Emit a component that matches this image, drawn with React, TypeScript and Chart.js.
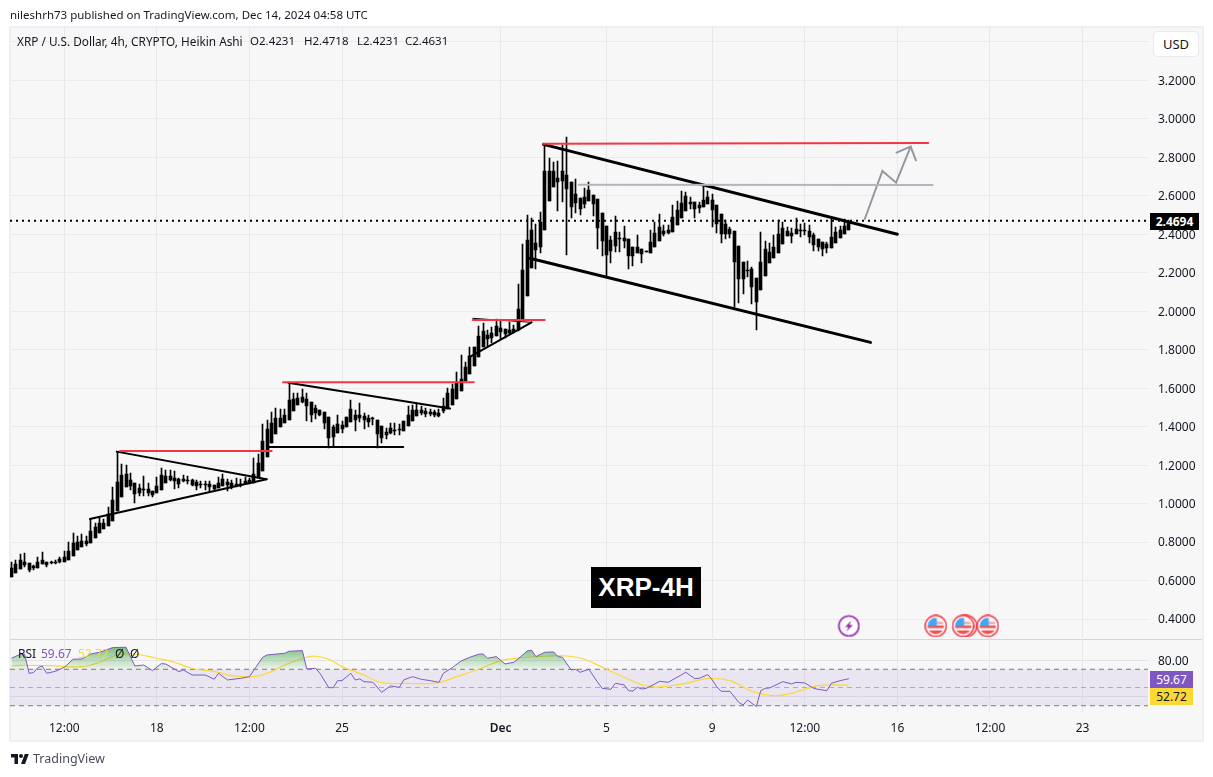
import React, { useEffect, useRef } from "react";
import { Chart, registerables } from "chart.js";

Chart.register(...registerables);

const FIRST_BAR = -12;

const bodyTops = [
  0.663, 0.686, 0.705, 0.694, 0.689, 0.674, 0.696, 0.705, 0.694, 0.694, 0.696, 0.712,
  0.722, 0.753, 0.795, 0.798, 0.805, 0.803, 0.857, 0.878, 0.897, 0.897,
  0.946, 1.018, 1.112, 1.148, 1.153, 1.122, 1.107, 1.081, 1.077, 1.075,
  1.065, 1.089, 1.148, 1.141, 1.141, 1.131, 1.127, 1.127, 1.122, 1.12,
  1.11, 1.101, 1.1, 1.1, 1.095, 1.107, 1.127, 1.112, 1.107, 1.1,
  1.103, 1.115, 1.12, 1.152, 1.209, 1.325, 1.386, 1.418, 1.444, 1.444,
  1.46, 1.538, 1.543, 1.547, 1.552, 1.543, 1.526, 1.496, 1.484, 1.474,
  1.45, 1.398, 1.412, 1.408, 1.45, 1.491, 1.46, 1.46, 1.455, 1.443,
  1.443, 1.434, 1.401, 1.373, 1.391, 1.382, 1.387, 1.427, 1.46, 1.484,
  1.486, 1.485, 1.48, 1.475, 1.475, 1.47, 1.507, 1.577, 1.594, 1.628,
  1.646, 1.712, 1.767, 1.815, 1.871, 1.897, 1.876, 1.888, 1.925, 1.912,
  1.907, 1.902, 1.907, 2.01, 2.214, 2.37, 2.422, 2.353, 2.465, 2.729,
  2.729, 2.729, 2.691, 2.729, 2.708, 2.67, 2.609, 2.587, 2.592, 2.63,
  2.604, 2.581, 2.509, 2.443, 2.37, 2.413, 2.38, 2.378, 2.373, 2.335,
  2.335, 2.321, 2.313, 2.358, 2.405, 2.439, 2.418, 2.422, 2.488, 2.526,
  2.561, 2.599, 2.566, 2.566, 2.552, 2.578, 2.595, 2.578, 2.552, 2.505,
  2.453, 2.427, 2.417, 2.339, 2.255, 2.214, 2.217, 2.174, 2.254, 2.321,
  2.308, 2.335, 2.4, 2.434, 2.417, 2.405, 2.427, 2.422, 2.422, 2.417,
  2.396, 2.375, 2.358, 2.347, 2.387, 2.412, 2.422, 2.443, 2.463,
];

const bodyBottoms = [
  0.62, 0.641, 0.661, 0.68, 0.654, 0.663, 0.667, 0.684, 0.68, 0.691, 0.693, 0.694,
  0.698, 0.706, 0.729, 0.76, 0.776, 0.79, 0.797, 0.823, 0.849, 0.869,
  0.885, 0.911, 0.963, 1.036, 1.088, 1.091, 1.051, 1.056, 1.072, 1.055,
  1.044, 1.055, 1.072, 1.108, 1.122, 1.117, 1.103, 1.115, 1.117, 1.096,
  1.091, 1.096, 1.096, 1.086, 1.074, 1.081, 1.091, 1.098, 1.086, 1.091,
  1.095, 1.1, 1.105, 1.108, 1.131, 1.171, 1.244, 1.316, 1.363, 1.399,
  1.42, 1.434, 1.483, 1.514, 1.528, 1.507, 1.462, 1.47, 1.46, 1.42,
  1.342, 1.346, 1.368, 1.387, 1.396, 1.422, 1.436, 1.446, 1.436, 1.424,
  1.438, 1.363, 1.341, 1.358, 1.365, 1.377, 1.382, 1.379, 1.405, 1.431,
  1.455, 1.47, 1.465, 1.465, 1.46, 1.455, 1.48, 1.49, 1.512, 1.542,
  1.587, 1.637, 1.673, 1.715, 1.764, 1.815, 1.855, 1.862, 1.873, 1.893,
  1.879, 1.888, 1.893, 1.902, 1.958, 2.079, 2.226, 2.318, 2.335, 2.422,
  2.574, 2.647, 2.67, 2.678, 2.635, 2.543, 2.564, 2.531, 2.557, 2.574,
  2.555, 2.434, 2.365, 2.292, 2.313, 2.339, 2.375, 2.367, 2.289, 2.287,
  2.304, 2.295, 2.308, 2.304, 2.332, 2.365, 2.401, 2.405, 2.413, 2.448,
  2.486, 2.522, 2.557, 2.531, 2.538, 2.543, 2.557, 2.526, 2.451, 2.401,
  2.4, 2.4, 2.257, 2.167, 2.165, 2.21, 2.127, 2.049, 2.11, 2.185,
  2.252, 2.278, 2.304, 2.351, 2.393, 2.393, 2.399, 2.417, 2.417, 2.384,
  2.344, 2.335, 2.325, 2.327, 2.33, 2.354, 2.382, 2.401, 2.423,
];

const highs = [
  0.698, 0.706, 0.738, 0.743, 0.689, 0.68, 0.72, 0.746, 0.694, 0.703, 0.705, 0.72,
  0.751, 0.798, 0.845, 0.831, 0.84, 0.831, 0.92, 0.897, 0.925, 0.918,
  0.982, 1.088, 1.269, 1.204, 1.2, 1.159, 1.107, 1.1, 1.141, 1.107,
  1.065, 1.138, 1.183, 1.174, 1.174, 1.169, 1.134, 1.148, 1.143, 1.127,
  1.122, 1.115, 1.115, 1.117, 1.095, 1.136, 1.152, 1.129, 1.122, 1.131,
  1.129, 1.136, 1.134, 1.235, 1.257, 1.412, 1.432, 1.474, 1.498, 1.491,
  1.491, 1.628, 1.576, 1.576, 1.593, 1.576, 1.526, 1.512, 1.484, 1.474,
  1.45, 1.408, 1.46, 1.431, 1.45, 1.538, 1.486, 1.521, 1.472, 1.46,
  1.451, 1.434, 1.401, 1.394, 1.417, 1.417, 1.412, 1.427, 1.507, 1.514,
  1.516, 1.505, 1.495, 1.49, 1.485, 1.49, 1.547, 1.599, 1.621, 1.685,
  1.772, 1.738, 1.812, 1.815, 1.923, 1.937, 1.9, 1.916, 1.958, 1.954,
  1.907, 1.945, 1.928, 2.141, 2.349, 2.5, 2.483, 2.453, 2.514, 2.864,
  2.798, 2.777, 2.782, 2.864, 2.904, 2.67, 2.685, 2.587, 2.638, 2.673,
  2.604, 2.581, 2.509, 2.443, 2.391, 2.495, 2.413, 2.443, 2.373, 2.335,
  2.396, 2.321, 2.313, 2.422, 2.462, 2.505, 2.448, 2.448, 2.552, 2.573,
  2.625, 2.621, 2.592, 2.566, 2.569, 2.652, 2.625, 2.609, 2.552, 2.505,
  2.474, 2.439, 2.417, 2.339, 2.255, 2.261, 2.231, 2.174, 2.413, 2.365,
  2.353, 2.396, 2.474, 2.462, 2.439, 2.431, 2.482, 2.451, 2.457, 2.448,
  2.405, 2.375, 2.358, 2.361, 2.477, 2.439, 2.443, 2.477, 2.472,
];

const lows = [
  0.62, 0.641, 0.66, 0.668, 0.644, 0.654, 0.667, 0.684, 0.672, 0.684, 0.686, 0.691,
  0.698, 0.706, 0.729, 0.76, 0.776, 0.777, 0.797, 0.823, 0.849, 0.869,
  0.885, 0.911, 0.963, 1.036, 1.088, 1.07, 1.004, 1.039, 1.039, 1.037,
  1.032, 1.055, 1.072, 1.108, 1.117, 1.075, 1.082, 1.112, 1.101, 1.089,
  1.07, 1.082, 1.07, 1.062, 1.067, 1.081, 1.091, 1.067, 1.075, 1.084,
  1.088, 1.1, 1.101, 1.105, 1.131, 1.171, 1.244, 1.316, 1.363, 1.399,
  1.42, 1.434, 1.483, 1.514, 1.524, 1.431, 1.425, 1.438, 1.455, 1.386,
  1.287, 1.296, 1.368, 1.365, 1.396, 1.422, 1.379, 1.425, 1.386, 1.399,
  1.408, 1.287, 1.316, 1.337, 1.361, 1.356, 1.356, 1.379, 1.405, 1.431,
  1.455, 1.46, 1.45, 1.455, 1.45, 1.45, 1.47, 1.49, 1.51, 1.542,
  1.587, 1.637, 1.673, 1.715, 1.764, 1.815, 1.819, 1.833, 1.873, 1.854,
  1.859, 1.881, 1.888, 1.895, 1.958, 2.079, 2.226, 2.217, 2.301, 2.422,
  2.574, 2.647, 2.523, 2.569, 2.292, 2.486, 2.509, 2.5, 2.535, 2.574,
  2.495, 2.323, 2.287, 2.179, 2.252, 2.309, 2.309, 2.33, 2.221, 2.235,
  2.301, 2.249, 2.306, 2.304, 2.332, 2.365, 2.391, 2.4, 2.413, 2.448,
  2.486, 2.522, 2.531, 2.486, 2.512, 2.543, 2.557, 2.439, 2.408, 2.356,
  2.373, 2.382, 2.02, 2.044, 2.089, 2.179, 2.037, 1.902, 2.11, 2.185,
  2.252, 2.278, 2.304, 2.351, 2.393, 2.356, 2.399, 2.384, 2.396, 2.353,
  2.315, 2.313, 2.287, 2.304, 2.33, 2.354, 2.382, 2.401, 2.423,
];

const rsiBars = [
  -12, -10, -9, -8, -7, -6, -5, -4, -2, 0, 2, 4, 6, 8, 11, 14, 16, 18, 20, 22, 23, 26, 27, 29, 32, 34, 35, 37, 40, 42,
  45, 46, 50, 51, 54, 55, 57, 58, 60, 61, 62, 63, 65, 66, 67, 68, 70, 72, 74, 76, 77, 79, 81, 83, 85, 86, 88, 90, 92,
  94, 95, 96, 98, 100, 102, 104, 105, 106, 107, 109, 111, 112, 113, 115, 116, 117, 119, 121, 122, 124, 125, 127, 128,
  129, 130, 131, 132, 134, 135, 137, 139, 141, 143, 144, 146, 147, 148, 149, 151, 153, 154, 155, 157, 158, 159, 160,
  163, 165, 166, 168, 170, 171, 173, 174, 176, 178,
];
const rsiValues = [
  82.1, 86.5, 86.8, 65.6, 66.3, 71.8, 73.6, 65.6, 67.8, 72.2, 81, 81.3, 86.8, 88.7, 93.8, 94.2, 73.6, 74.7, 68.5, 76.2,
  75.8, 67.4, 69.2, 63.7, 63.7, 59, 65.6, 58.3, 60.1, 61.9, 83.2, 85.7, 87.6, 89.8, 90.5, 70.3, 71.1, 65.6, 49.8, 49.8,
  57.5, 57.5, 65.6, 58.3, 59.4, 56.4, 55.7, 44.7, 51.7, 50.2, 58.3, 61.9, 59, 57.5, 55.7, 65.6, 71.8, 79.1, 83.2, 86.5,
  86.8, 82.1, 83.9, 75.8, 77.7, 85.7, 90.1, 90.9, 83.9, 88.7, 89, 83.9, 83.2, 69.2, 70, 66.7, 70, 55.7, 49.1, 48, 54.6,
  52.8, 46.5, 46.1, 50.2, 48.4, 49.1, 53.9, 56.8, 55.7, 61.2, 66.7, 59.7, 60.1, 64.1, 58.3, 50.9, 45.8, 45.8, 33.7, 30.8,
  36.3, 29, 46.5, 49.1, 49.5, 56.4, 53.9, 55.7, 55, 49.1, 48, 46.5, 54.6, 57.5, 59.67,
];

const maBars = [
  -12, -10, -3, 4, 8, 12, 16, 21, 25, 29, 35, 38, 43, 47, 50, 55, 57, 60, 63, 68, 72, 78, 81, 85, 89, 94, 99, 103, 110,
  114, 118, 123, 128, 132, 135, 141, 146, 151, 156, 161, 165, 171, 178,
];
const maValues = [
  73.6, 74.4, 74, 72.9, 77.7, 85.7, 86.8, 82.1, 77.7, 71.1, 66.7, 63, 61.9, 67.4, 74.7, 83.2, 84.3, 81, 72.9, 63.7, 55.3,
  54.6, 54.2, 55.3, 61.9, 70, 79.5, 82.4, 84.6, 84.6, 81, 70, 59, 51.7, 50.6, 54.6, 59.7, 57.5, 45.8, 41, 43.6, 52, 52.72,
];

const tickBars = [0, 21, 42, 63, 99, 123, 147, 168, 189, 210, 231];
const tickLabels = ["12:00", "18", "12:00", "25", "Dec", "5", "9", "12:00", "16", "12:00", "23"];

const LAST_PRICE = 2.4694;
const BAR_MIN = -12.32;
const BAR_MAX = 245.85;

type Pt = [number, number];
const triangle1Upper: Pt[] = [[11.9, 1.27], [45.9, 1.126]];
const triangle1Lower: Pt[] = [[5.8, 0.92], [45.9, 1.126]];
const resistance1: Pt[] = [[12.6, 1.273], [47.05, 1.273]];
const triangle2Upper: Pt[] = [[50.8, 1.628], [87.5, 1.494]];
const triangle2Lower: Pt[] = [[46.2, 1.294], [76.9, 1.294]];
const resistance2: Pt[] = [[49.6, 1.63], [92.9, 1.63]];
const resistance3: Pt[] = [[92.65, 1.954], [109, 1.954]];
const triangle3Upper: Pt[] = [[92.65, 1.963], [106, 1.942]];
const triangle3Lower: Pt[] = [[92, 1.763], [106, 1.942]];
const channelUpper: Pt[] = [[108.7, 2.867], [189, 2.4]];
const channelLower: Pt[] = [[105.6, 2.275], [182.9, 1.838]];
const resistanceTop: Pt[] = [[108.6, 2.87], [196, 2.874]];
const grayLevel: Pt[] = [[116.7, 2.657], [197, 2.656]];
const arrowPath: Pt[] = [[181.6, 2.479], [185.6, 2.729], [188.7, 2.668], [192, 2.855]];
const arrowHead: Pt[] = [[188.8, 2.824], [192, 2.855], [193.2, 2.784]];

const flagEventBars = [197.7, 204.6, 203.9, 209.5];
const boltEventBars = [178];
const EVENT_PRICE = 0.364;

const FONT = "'Noto Sans', sans-serif";

function flagIcon(): HTMLCanvasElement {
  const c = document.createElement("canvas");
  c.width = 23;
  c.height = 23;
  const g = c.getContext("2d")!;
  const m = 11.5;
  g.beginPath();
  g.arc(m, m, 10.5, 0, Math.PI * 2);
  g.fillStyle = "#ffffff";
  g.fill();
  g.lineWidth = 1.4;
  g.strokeStyle = "#f23645";
  g.stroke();
  g.save();
  g.beginPath();
  g.arc(m, m, 8.2, 0, Math.PI * 2);
  g.clip();
  g.fillStyle = "#f7f7f7";
  g.fillRect(0, 0, 23, 23);
  g.fillStyle = "#ef5350";
  g.fillRect(0, 11, 23, 2.6);
  g.fillRect(0, 16, 23, 4);
  g.fillStyle = "#ef9a9a";
  g.fillRect(12, 7.5, 12, 2);
  g.fillStyle = "#42a5f5";
  g.fillRect(0, 0, 12.5, 11.5);
  g.restore();
  return c;
}

function boltIcon(): HTMLCanvasElement {
  const c = document.createElement("canvas");
  c.width = 23;
  c.height = 23;
  const g = c.getContext("2d")!;
  g.beginPath();
  g.arc(11.5, 11.5, 10, 0, Math.PI * 2);
  g.fillStyle = "#ffffff";
  g.fill();
  g.lineWidth = 1.6;
  g.strokeStyle = "#9c27b0";
  g.stroke();
  g.beginPath();
  g.moveTo(14, 6);
  g.lineTo(7.5, 12.5);
  g.lineTo(11, 12.5);
  g.lineTo(9, 17);
  g.lineTo(15.5, 10.5);
  g.lineTo(12, 10.5);
  g.closePath();
  g.fillStyle = "#9c27b0";
  g.fill();
  return c;
}

const toXY = (pts: Pt[]) => pts.map(([x, y]) => ({ x, y }));

const drawnLine = (pts: Pt[], color: string, width: number) => ({
  type: "line" as const,
  data: toXY(pts),
  borderColor: color,
  borderWidth: width,
  pointRadius: 0,
  xAxisID: "x",
  yAxisID: "y",
  order: 1,
  fill: false,
  borderCapStyle: "round" as const,
  borderJoinStyle: "miter" as const,
});

const snapBars = {
  id: "snapBars",
  afterDatasetsUpdate(chart: any) {
    chart.data.datasets.forEach((d: any, i: number) => {
      if (d.type !== "bar") return;
      chart.getDatasetMeta(i).data.forEach((el: any) => {
        el.x = Math.floor(el.x) + 0.5;
        el.y = Math.round(el.y);
        el.base = Math.round(el.base);
      });
    });
  },
};

// The labels' font sits one pixel above the grid line: move them back onto it.
const nudgeLabels = (s: any) => {
  if (s.$nudged) return;
  s.$nudged = true;
  const compute = s._computeLabelItems.bind(s);
  s._computeLabelItems = (area: any) =>
    compute(area).map((it: any) => ({
      ...it,
      options: { ...it.options, translation: [it.options.translation[0], it.options.translation[1] + 1] },
    }));
};

const abs = (o: React.CSSProperties): React.CSSProperties => ({
  position: "absolute",
  whiteSpace: "nowrap",
  fontFamily: FONT,
  ...o,
});

export default function App() {
  const ref = useRef<HTMLCanvasElement>(null);

  useEffect(() => {
    document.body.style.margin = "0";
    document.body.style.background = "#ffffff";
    const canvas = ref.current!;
    const ctx = canvas.getContext("2d")!;
    const green = ctx.createLinearGradient(0, 645, 0, 670);
    green.addColorStop(0, "rgba(67,160,71,0.75)");
    green.addColorStop(1, "rgba(76,175,80,0.04)");
    const barIndex = (i: number) => i + FIRST_BAR;

    const chart = new Chart(canvas, {
      type: "bar",
      plugins: [snapBars],
      data: {
        datasets: [
          {
            type: "line",
            data: [{ x: BAR_MIN, y: LAST_PRICE }, { x: BAR_MAX, y: LAST_PRICE }],
            borderColor: "#000000",
            borderWidth: 2,
            borderDash: [2, 4],
            pointRadius: 0,
            yAxisID: "y",
            order: 5,
          },
          {
            type: "bar",
            data: lows.map((l, i) => ({ x: barIndex(i), y: [l, highs[i]] })),
            backgroundColor: "#000000",
            barThickness: 1,
            grouped: false,
            yAxisID: "y",
            order: 4,
            stack: "wicks",
          },
          {
            type: "bar",
            data: bodyBottoms.map((b, i) => ({ x: barIndex(i), y: [b, bodyTops[i]] })),
            backgroundColor: "#000000",
            barThickness: 3,
            minBarLength: 1,
            grouped: false,
            yAxisID: "y",
            order: 3,
            stack: "bodies",
          },
          drawnLine(resistance1, "#f23645", 2),
          drawnLine(resistance2, "#f23645", 2),
          drawnLine(resistance3, "#f23645", 2),
          drawnLine(resistanceTop, "#f23645", 2),
          drawnLine(grayLevel, "#b2b5be", 2),
          drawnLine(triangle1Upper, "#000000", 2),
          drawnLine(triangle1Lower, "#000000", 2),
          drawnLine(triangle2Upper, "#000000", 2),
          drawnLine(triangle2Lower, "#000000", 2),
          drawnLine(triangle3Upper, "#000000", 1),
          drawnLine(triangle3Lower, "#000000", 2),
          drawnLine(channelUpper, "#000000", 3),
          drawnLine(channelLower, "#000000", 3),
          drawnLine(arrowPath, "#9598a1", 2),
          drawnLine(arrowHead, "#9598a1", 2),
          {
            type: "line",
            data: flagEventBars.map((x) => ({ x, y: EVENT_PRICE })),
            showLine: false,
            pointStyle: flagIcon() as any,
            pointRadius: 11,
            yAxisID: "y",
            order: 0,
          },
          {
            type: "line",
            data: boltEventBars.map((x) => ({ x, y: EVENT_PRICE })),
            showLine: false,
            pointStyle: boltIcon() as any,
            pointRadius: 11,
            yAxisID: "y",
            order: 0,
          },
          {
            type: "line",
            data: [{ x: BAR_MIN, y: 70 }, { x: BAR_MAX, y: 70 }],
            borderColor: "#787b86",
            borderWidth: 1,
            borderDash: [5, 4],
            pointRadius: 0,
            yAxisID: "rsi",
            order: 8,
            fill: { target: { value: 30 }, above: "rgba(126,87,194,0.1)", below: "rgba(126,87,194,0.1)" },
          },
          {
            type: "line",
            data: [{ x: BAR_MIN, y: 50 }, { x: BAR_MAX, y: 50 }],
            borderColor: "rgba(120,123,134,0.55)",
            borderWidth: 1,
            borderDash: [5, 4],
            pointRadius: 0,
            yAxisID: "rsi",
            order: 7,
          },
          {
            type: "line",
            data: [{ x: BAR_MIN, y: 30 }, { x: BAR_MAX, y: 30 }],
            borderColor: "#787b86",
            borderWidth: 1,
            borderDash: [5, 4],
            pointRadius: 0,
            yAxisID: "rsi",
            order: 7,
          },
          {
            type: "line",
            data: maBars.map((x, i) => ({ x, y: maValues[i] })),
            borderColor: "#fdd835",
            borderWidth: 1.2,
            pointRadius: 0,
            tension: 0.4,
            yAxisID: "rsi",
            order: 2,
          },
          {
            type: "line",
            data: rsiBars.map((x, i) => ({ x, y: rsiValues[i] })),
            borderColor: "#7e57c2",
            borderWidth: 1,
            pointRadius: 0,
            yAxisID: "rsi",
            order: 1,
            fill: { target: { value: 70 }, above: green, below: "rgba(0,0,0,0)" },
          },
        ] as any,
      },
      options: {
        animation: false,
        responsive: false,
        events: [],
        layout: { autoPadding: false, padding: { left: 10, right: 10, top: 27, bottom: 37 } },
        plugins: { legend: { display: false }, tooltip: { enabled: false } },
        scales: {
          x: {
            type: "linear",
            position: "bottom",
            min: BAR_MIN,
            max: BAR_MAX,
            offset: false,
            grid: { color: "#e8e8eb", offset: false, drawTicks: false },
            border: { display: false },
            afterFit: (s: any) => {
              s.height = 27;
              s.paddingLeft = 0;
              s.paddingRight = 0;
            },
            afterBuildTicks: (s: any) => {
              s.ticks = tickBars.map((value) => ({ value }));
            },
            ticks: {
              autoSkip: false,
              maxRotation: 0,
              padding: 8,
              color: "#131722",
              font: (c: any) => ({
                family: FONT,
                size: 12,
                weight: tickLabels[tickBars.indexOf(c.tick?.value)] === "Dec" ? 600 : 400,
              }),
              callback: (v: any) => tickLabels[tickBars.indexOf(v)],
            },
          },
          y: {
            type: "linear",
            position: "right",
            stack: "panes",
            stackWeight: 612.5,
            min: 0.2936,
            max: 3.477,
            beginAtZero: false,
            grid: { color: "#ebebee", drawTicks: false },
            border: { display: false },
            afterFit: (s: any) => {
              s.width = 55;
              s.paddingTop = 0;
              s.paddingBottom = 0;
            },
            afterUpdate: nudgeLabels,
            ticks: {
              stepSize: 0.2,
              includeBounds: false,
              padding: 10,
              crossAlign: "near",
              color: "#131722",
              font: { family: FONT, size: 12 },
              callback: (v: any) => (Math.abs(v - 3.4) < 0.01 ? "" : Number(v).toFixed(4)),
            },
          },
          rsi: {
            type: "linear",
            axis: "y",
            position: "right",
            stack: "panes",
            stackWeight: 73.5,
            min: 22,
            max: 102.7,
            grid: { color: "#e3e3e8", drawTicks: false },
            border: { display: false },
            afterFit: (s: any) => {
              s.width = 55;
              s.paddingTop = 0;
              s.paddingBottom = 0;
            },
            afterBuildTicks: (s: any) => {
              s.ticks = [{ value: 80 }, { value: 40 }];
            },
            afterUpdate: nudgeLabels,
            ticks: {
              padding: 10,
              crossAlign: "near",
              color: "#131722",
              font: { family: FONT, size: 12 },
              callback: (v: any) => (v === 80 ? "80.00" : ""),
            },
          },
        } as any,
      },
    } as any);
    return () => chart.destroy();
  }, []);

  const legend = (left: number, text: string, color: string, top = 33, size = 12) => (
    <div style={abs({ left, top, fontSize: size, lineHeight: "16px", color })}>{text}</div>
  );

  return (
    <div style={{ position: "relative", width: 1213, height: 777, overflow: "hidden", background: "#fff" }}>
      <div
        style={{
          position: "absolute",
          left: 9,
          top: 26,
          width: 1195,
          height: 716,
          background: "#f7f7f7",
          boxSizing: "border-box",
          border: "2px solid #eeeff3",
        }}
      />
      <div style={{ position: "absolute", left: 10, top: 639, width: 1192, height: 1, background: "#d5d5e0" }} />
      <canvas ref={ref} width={1213} height={777} style={{ position: "absolute", left: 0, top: 0 }} />

      {legend(10, "nileshrh73 published on TradingView.com, Dec 14, 2024 04:58 UTC", "#131722", 7, 11.5)}
      {legend(17, "XRP / U.S. Dollar, 4h, CRYPTO, Heikin Ashi", "#131722", 33, 11.8)}
      {legend(250, "O2.4231", "#131722", 33, 11.5)}
      {legend(304, "H2.4718", "#131722", 33, 11.5)}
      {legend(357, "L2.4231", "#131722", 33, 11.5)}
      {legend(405, "C2.4631", "#131722", 33, 11.5)}

      <div
        style={abs({
          left: 1153,
          top: 31,
          width: 46,
          height: 26,
          boxSizing: "border-box",
          background: "#fff",
          border: "1px solid #e8eaf0",
          borderRadius: 4,
          textAlign: "center",
          fontSize: 13,
          lineHeight: "24px",
          color: "#131722",
        })}
      >
        USD
      </div>
      <div
        style={abs({
          left: 1150,
          top: 213,
          width: 49,
          height: 17,
          background: "#000",
          color: "#fff",
          textAlign: "center",
          fontSize: 12,
          fontWeight: 700,
          lineHeight: "17px",
        })}
      >
        2.4694
      </div>
      <div
        style={abs({
          left: 1150,
          top: 671,
          width: 43,
          height: 17,
          background: "#7e57c2",
          color: "#fff",
          textAlign: "center",
          fontSize: 12,
          lineHeight: "17px",
        })}
      >
        59.67
      </div>
      <div
        style={abs({
          left: 1150,
          top: 688,
          width: 43,
          height: 17,
          background: "#fdd835",
          color: "#131722",
          textAlign: "center",
          fontSize: 12,
          lineHeight: "17px",
        })}
      >
        52.72
      </div>

      <div
        style={abs({
          left: 591,
          top: 567,
          width: 110,
          height: 41,
          background: "#000",
          color: "#fff",
          textAlign: "center",
          fontFamily: "'Liberation Sans', sans-serif",
          fontSize: 26,
          fontWeight: 700,
          lineHeight: "41px",
        })}
      >
        XRP-4H
      </div>

      {legend(18, "RSI", "#131722", 646)}
      {legend(41, "59.67", "#7e57c2", 646)}
      {legend(78, "52.72", "#fdd835", 646)}
      {legend(115, "Ø", "#131722", 646)}
      {legend(130, "Ø", "#131722", 646)}

      <svg style={{ position: "absolute", left: 10, top: 752 }} width="20" height="14" viewBox="0 0 36 28">
        <path d="M14 24H7V11H0V4h14v20zM28 24h-8l7.5-20h8L28 24z" fill="#131722" />
        <circle cx="20" cy="8" r="4" fill="#131722" />
      </svg>
      <div style={abs({ left: 33, top: 750, fontSize: 12.5, lineHeight: "18px", color: "#4a4e5a" })}>TradingView</div>
    </div>
  );
}
